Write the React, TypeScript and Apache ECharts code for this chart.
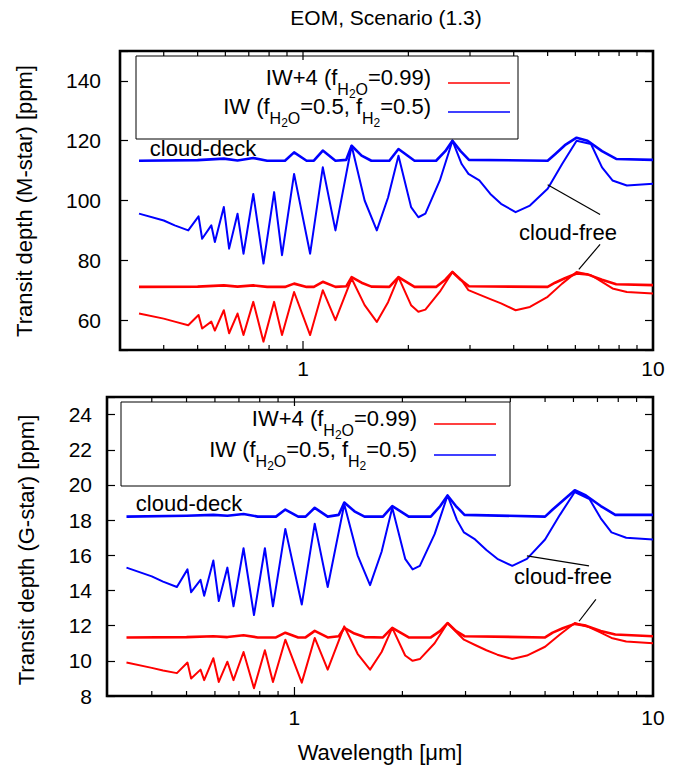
import React, { useEffect, useRef } from 'react';
import * as echarts from 'echarts';

// ---------- data ----------
// wavelength grid [µm] for the cloud-free spectra
const wlFree = [0.34, 0.40, 0.43, 0.47, 0.503, 0.515, 0.547, 0.56, 0.594, 0.615, 0.65, 0.676, 0.721, 0.771, 0.827, 0.871, 0.943, 1.048, 1.139, 1.238, 1.377, 1.50, 1.625, 1.75, 1.874, 2.036, 2.136, 2.237, 2.46, 2.673, 2.84, 2.97, 3.19, 3.43, 3.68, 4.05, 4.45, 5.0, 5.5, 6.05, 6.65, 7.15, 7.66, 8.42, 10];
// wavelength grid [µm] for the cloud-deck spectra
const wlDeck = [0.34, 0.50, 0.594, 0.65, 0.721, 0.79, 0.888, 0.943, 1.024, 1.074, 1.139, 1.238, 1.329, 1.377, 1.47, 1.568, 1.765, 1.874, 2.083, 2.40, 2.55, 2.673, 2.82, 2.98, 5.0, 5.25, 5.6, 6.05, 6.5, 7.15, 7.85, 10];

// M-star transit depth [ppm]
const mIW4Free = [62.2, 60.5, 59.5, 58.3, 61.7, 57.2, 59.5, 56.5, 63.3, 55.6, 62.2, 55.0, 66.1, 52.8, 66.1, 55.0, 69.4, 55.0, 70.0, 60.0, 73.9, 65.0, 59.4, 66.0, 74.4, 65.0, 62.8, 63.5, 69.5, 76.1, 73.3, 70.0, 68.5, 67.0, 65.6, 63.3, 64.4, 67.8, 72.2, 76.1, 75.0, 72.8, 70.6, 69.4, 68.9];
const mIWFree = [95.6, 93.3, 91.7, 90.0, 94.7, 87.2, 91.7, 86.1, 97.8, 83.9, 95.6, 82.2, 102.2, 78.9, 102.8, 81.7, 108.9, 82.2, 111.1, 90.0, 118.3, 100.0, 90.0, 101.0, 115.0, 97.8, 94.4, 95.6, 106.7, 120.0, 112.2, 108.9, 106.7, 102.2, 98.9, 96.1, 98.3, 103.9, 112.2, 120.0, 118.9, 111.1, 106.7, 105.0, 105.6];
const mIW4Deck = [71.1, 71.2, 71.6, 71.2, 71.6, 71.1, 71.1, 72.2, 71.1, 71.1, 72.8, 71.1, 71.3, 74.4, 72.5, 71.2, 71.1, 74.4, 71.1, 71.1, 73.5, 76.1, 73.5, 71.3, 71.1, 72.5, 74.0, 75.6, 75.3, 73.5, 72.0, 71.7];
const mIWDeck = [113.3, 113.5, 114.0, 113.4, 114.2, 113.3, 113.3, 116.1, 113.3, 113.3, 116.7, 113.3, 113.6, 118.3, 115.0, 113.3, 113.3, 117.2, 113.3, 113.3, 116.5, 120.0, 116.5, 113.6, 113.3, 115.5, 118.5, 121.0, 120.0, 116.5, 113.9, 113.6];

// G-star transit depth [ppm]
const gIW4Free = [9.9, 9.6, 9.45, 9.3, 9.9, 9.0, 9.5, 8.9, 10.15, 8.8, 9.95, 8.9, 10.5, 8.44, 10.6, 8.8, 11.2, 8.76, 11.3, 9.5, 11.96, 10.4, 9.5, 10.5, 11.87, 10.3, 10.0, 10.1, 11.0, 12.15, 11.6, 11.2, 10.9, 10.6, 10.35, 10.1, 10.3, 10.8, 11.5, 12.15, 11.9, 11.6, 11.3, 11.1, 11.0];
const gIWFree = [15.3, 14.8, 14.5, 14.2, 15.2, 13.9, 14.6, 13.7, 15.7, 13.4, 15.3, 13.1, 16.4, 12.6, 16.4, 13.1, 17.5, 13.2, 17.8, 14.2, 18.9, 16.0, 14.3, 16.2, 18.7, 15.8, 15.2, 15.4, 17.2, 19.4, 18.0, 17.3, 16.9, 16.3, 15.8, 15.4, 15.8, 16.9, 18.3, 19.6, 19.2, 18.1, 17.3, 17.0, 16.9];
const gIW4Deck = [11.33, 11.35, 11.4, 11.35, 11.45, 11.33, 11.33, 11.6, 11.33, 11.33, 11.7, 11.33, 11.4, 11.87, 11.55, 11.35, 11.33, 11.87, 11.33, 11.33, 11.7, 12.15, 11.7, 11.4, 11.33, 11.6, 11.85, 12.1, 12.0, 11.7, 11.5, 11.4];
const gIWDeck = [18.2, 18.25, 18.3, 18.25, 18.35, 18.2, 18.2, 18.6, 18.2, 18.2, 18.7, 18.2, 18.3, 19.0, 18.5, 18.2, 18.2, 18.8, 18.2, 18.2, 18.8, 19.4, 18.8, 18.3, 18.2, 18.6, 19.1, 19.7, 19.4, 18.8, 18.3, 18.3];

// annotation pointer segments ([wavelength, depth] end points)
const mPointerBlue = [[5.0, 105.3], [7.06, 95.3]];
const mPointerRed = [[7.06, 85.3], [6.14, 77.0]];
const gPointerBlue = [[4.45, 15.97], [6.63, 15.4]];
const gPointerRed = [[6.93, 13.5], [6.22, 12.25]];

// ticks
const xMajorTicks = [1, 10];
const xMinorTicks = [0.4, 0.5, 0.6, 0.7, 0.8, 0.9, 2, 3, 4, 5, 6, 7, 8, 9];
const mYTicks = [60, 80, 100, 120, 140];
const gYTicks = [8, 10, 12, 14, 16, 18, 20, 22, 24];

const RED = '#ff0000';
const BLUE = '#0000ff';
const FONT = '"Liberation Sans", Arial, Helvetica, sans-serif';

const zip = (wl: number[], v: number[]) => wl.map((w, i) => [w, v[i]]);

function lineSeries(data: number[][], color: string, width: number, xi: number, yi: number) {
  return {
    type: 'line',
    xAxisIndex: xi,
    yAxisIndex: yi,
    data,
    symbol: 'none',
    silent: true,
    lineStyle: { color, width, join: 'round' },
  };
}

function tickSeries(xi: number, yi: number, yMin: number, yMax: number) {
  const data = [
    ...xMajorTicks.map((t) => [t, yMin, 9]),
    ...xMinorTicks.map((t) => [t, yMin, 5]),
  ];
  return {
    type: 'custom',
    xAxisIndex: xi,
    yAxisIndex: yi,
    silent: true,
    clip: false,
    data,
    encode: { x: 0, y: 1 },
    renderItem: (_p: any, api: any) => {
      const x = api.value(0);
      const len = api.value(2);
      const pb = api.coord([x, yMin]);
      const pt = api.coord([x, yMax]);
      return {
        type: 'group',
        children: [
          { type: 'line', shape: { x1: pb[0], y1: pb[1], x2: pb[0], y2: pb[1] - len }, style: { stroke: '#000', lineWidth: 1.2 } },
          { type: 'line', shape: { x1: pt[0], y1: pt[1], x2: pt[0], y2: pt[1] + len }, style: { stroke: '#000', lineWidth: 1.2 } },
        ],
      };
    },
  };
}

const richStyles = {
  n: { fontSize: 22, lineHeight: 26, verticalAlign: 'top', fontFamily: FONT, color: '#000' },
  s: { fontSize: 16, lineHeight: 16, verticalAlign: 'top', padding: [15, 0, 0, 0], fontFamily: FONT, color: '#000' },
  ss: { fontSize: 12, lineHeight: 12, verticalAlign: 'top', padding: [22, 0, 0, 0], fontFamily: FONT, color: '#000' },
};
const legendIW4 = '{n|IW+4 (f}{s|H}{ss|2}{s|O}{n|=0.99)}';
const legendIW = '{n|IW (f}{s|H}{ss|2}{s|O}{n|=0.5, f}{s|H}{ss|2}{n|=0.5)}';

function legendGroup(box: number[], textRight: number, base1: number, base2: number, lineX: number[]) {
  return [
    { type: 'rect', shape: { x: box[0], y: box[1], width: box[2] - box[0], height: box[3] - box[1] }, style: { fill: 'transparent', stroke: '#000', lineWidth: 1 }, z: 10 },
    { type: 'text', x: textRight, y: base1 - 21, style: { text: legendIW4, rich: richStyles, align: 'right', verticalAlign: 'top' }, z: 10 },
    { type: 'text', x: textRight, y: base2 - 21, style: { text: legendIW, rich: richStyles, align: 'right', verticalAlign: 'top' }, z: 10 },
    { type: 'line', shape: { x1: lineX[0], y1: base1 - 4, x2: lineX[1], y2: base1 - 4 }, style: { stroke: RED, lineWidth: 1.5 }, z: 10 },
    { type: 'line', shape: { x1: lineX[0], y1: base2 - 4, x2: lineX[1], y2: base2 - 4 }, style: { stroke: BLUE, lineWidth: 1.5 }, z: 10 },
  ];
}

function plainText(text: string, x: number, y: number, size: number, rotation = 0) {
  return {
    type: 'text', x, y, rotation, z: 10,
    style: { text, fontSize: size, fontFamily: FONT, fill: '#000', align: 'center', verticalAlign: 'middle' },
  };
}

export default function App() {
  const ref = useRef<HTMLDivElement>(null);
  useEffect(() => {
    if (!ref.current) return;
    const chart = echarts.init(ref.current, null, { renderer: 'svg' });
    const xLabel = (v: number) => (Math.abs(v - 1) < 1e-6 ? '1' : Math.abs(v - 10) < 1e-5 ? '10' : '');
    const xAxisBase = (gi: number, margin: number) => ({
      gridIndex: gi, type: 'log', logBase: 10, min: 0.3, max: 10,
      axisLine: { show: false }, axisTick: { show: false }, splitLine: { show: false }, minorTick: { show: false },
      axisLabel: { fontSize: 21, fontFamily: FONT, color: '#000', margin, formatter: xLabel },
    });
    const yAxisBase = (gi: number, min: number, max: number, extra: any, ticks: number[], margin: number, pos: string) => ({
      gridIndex: gi, type: 'value', min, max, position: pos, ...extra,
      axisLine: { show: false }, splitLine: { show: false },
      axisTick: { show: true, inside: true, length: 8, lineStyle: { color: '#000', width: 1.2 } },
      axisLabel: {
        show: pos === 'left', fontSize: 21, fontFamily: FONT, color: '#000', margin,
        formatter: (v: number) => (ticks.includes(v) ? String(v) : ''),
      },
    });
    const option = {
      animation: false,
      backgroundColor: '#fff',
      grid: [
        { left: 120, top: 51, width: 533, height: 299, show: true, borderColor: '#000', borderWidth: 2.6, backgroundColor: 'transparent' },
        { left: 107, top: 397, width: 546, height: 299, show: true, borderColor: '#000', borderWidth: 2.6, backgroundColor: 'transparent' },
      ],
      xAxis: [xAxisBase(0, 8), xAxisBase(1, 11)],
      yAxis: [
        yAxisBase(0, 50, 150, { splitNumber: 5 }, mYTicks, 19, 'left'),
        yAxisBase(0, 50, 150, { splitNumber: 5 }, mYTicks, 19, 'right'),
        yAxisBase(1, 8, 25, { interval: 2 }, gYTicks, 15, 'left'),
        yAxisBase(1, 8, 25, { interval: 2 }, gYTicks, 15, 'right'),
      ],
      series: [
        lineSeries(zip(wlDeck, mIWDeck), BLUE, 2.6, 0, 0),
        lineSeries(zip(wlFree, mIWFree), BLUE, 2, 0, 0),
        lineSeries(zip(wlDeck, mIW4Deck), RED, 2.6, 0, 0),
        lineSeries(zip(wlFree, mIW4Free), RED, 2, 0, 0),
        lineSeries(mPointerBlue, '#000', 1.2, 0, 0),
        lineSeries(mPointerRed, '#000', 1.2, 0, 0),
        tickSeries(0, 0, 50, 150),
        lineSeries(zip(wlDeck, gIWDeck), BLUE, 2.6, 1, 2),
        lineSeries(zip(wlFree, gIWFree), BLUE, 2, 1, 2),
        lineSeries(zip(wlDeck, gIW4Deck), RED, 2.6, 1, 2),
        lineSeries(zip(wlFree, gIW4Free), RED, 2, 1, 2),
        lineSeries(gPointerBlue, '#000', 1.2, 1, 2),
        lineSeries(gPointerRed, '#000', 1.2, 1, 2),
        tickSeries(1, 2, 8, 25),
      ],
      graphic: [
        plainText('EOM, Scenario (1.3)', 386, 17, 21),
        plainText('Transit depth (M-star) [ppm]', 24, 201, 22, Math.PI / 2),
        plainText('Transit depth (G-star) [ppm]', 26, 550, 22, Math.PI / 2),
        plainText('Wavelength [\u03bcm]', 380, 752, 22),
        plainText('cloud-deck', 203, 148, 22),
        plainText('cloud-free', 568, 232, 22),
        plainText('cloud-deck', 189, 503, 22),
        plainText('cloud-free', 563, 576, 22),
        ...legendGroup([136, 56, 518, 139], 431, 87, 116, [448, 510]),
        ...legendGroup([121, 402, 510, 486], 417, 428, 459, [434, 496]),
      ],
    };
    chart.setOption(option as any);
    return () => chart.dispose();
  }, []);
  return <div ref={ref} style={{ position: 'absolute', left: 0, top: 0, width: 695, height: 774 }} />;
}
